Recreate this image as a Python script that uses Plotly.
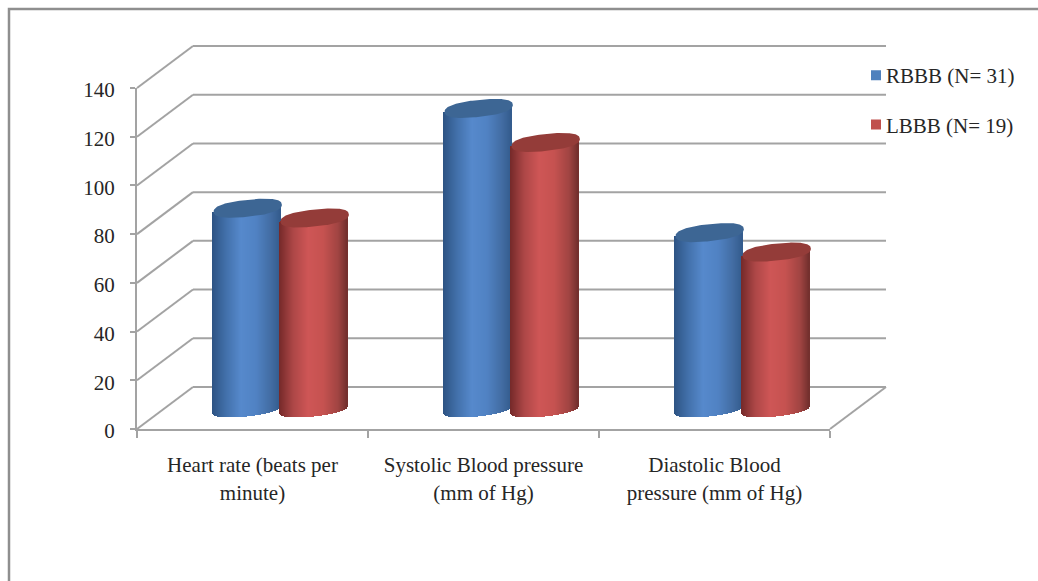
import numpy as np
import plotly.graph_objects as go

# ---- data ----
categories = ["Heart rate (beats per<br>minute)",
              "Systolic Blood pressure<br>(mm of Hg)",
              "Diastolic Blood<br>pressure (mm of Hg)"]
rbbb = [82, 123, 72]
lbbb = [78, 109, 64]
y_ticks = [0, 20, 40, 60, 80, 100, 120, 140]
series_names = ["RBBB (N= 31)", "LBBB (N= 19)"]

# ---- geometry ----
W, H = 1038, 581
L, R, T, B = 137, 830, 88, 429
X_PX = (R - L) / 3          # pixels per category
Y_PX = (B - T) / 140        # pixels per value unit
DEPTH_X, DEPTH_Y = 56 / X_PX, 42 / Y_PX
GRID = "#a3a3a3"
TXT = "#262626"
FONT = "Liberation Serif"
FS = 21


def px(u):
    return u / 3


def py(v):
    return v / 140


def mix(stops, t):
    ts = [s[0] for s in stops]
    return "rgb({:.0f},{:.0f},{:.0f})".format(*[np.interp(t, ts, [s[1][i] for s in stops]) for i in range(3)])


blue_stops = [(-1, (46, 84, 132)), (-0.6, (66, 112, 170)), (-0.15, (86, 137, 204)),
              (0.3, (80, 130, 195)), (0.75, (66, 108, 162)), (1, (52, 92, 142))]
red_stops = [(-1, (118, 42, 42)), (-0.6, (172, 70, 70)), (-0.15, (206, 86, 86)),
             (0.3, (198, 82, 80)), (0.75, (160, 68, 66)), (1, (116, 48, 46))]
cap_colors = ["#3d6694", "#943c39"]

HALF = 33.5 / X_PX
SKEW = 3.5 / Y_PX
TOP_E = 8.5 / Y_PX
BOT_E = 6 / Y_PX
BOT_DROP = 2.5 / Y_PX
N = 68
MID_X, MID_Y = DEPTH_X / 2, DEPTH_Y / 2


def cylinder(centers, values, stops, cap):
    ts = np.linspace(-1, 1, N)
    xs, bases, heights, cols = [], [], [], []
    for c, v in zip(centers, values):
        for t in ts:
            lo = MID_Y - BOT_DROP + SKEW * t - BOT_E * np.sqrt(1 - t * t)
            hi = v + MID_Y + SKEW * t
            xs.append(c + MID_X + t * HALF)
            bases.append(lo)
            heights.append(hi - lo)
            cols.append(mix(stops, t))
    body = go.Bar(x=xs, y=heights, base=bases, width=1.5 / X_PX, showlegend=False,
                  marker=dict(color=cols, line=dict(width=0)), hoverinfo="skip")
    th = np.linspace(0, 2 * np.pi, 145)
    ca = np.sign(np.cos(th)) * np.abs(np.cos(th)) ** 0.82
    sa = np.sign(np.sin(th)) * np.abs(np.sin(th)) ** 0.82
    cx, cy = [], []
    for c, v in zip(centers, values):
        cx += list(c + MID_X + 0.003 + (HALF * 1.02) * ca) + [None]
        cy += list(v + MID_Y + SKEW * ca + TOP_E * sa) + [None]
    top = go.Scatter(x=cx, y=cy, mode="lines", fill="toself", fillcolor=cap,
                     line=dict(width=0, color=cap), showlegend=False, hoverinfo="skip")
    return [body, top]


offset = 0.145
centers_r = [i + 0.5 - offset for i in range(3)]
centers_l = [i + 0.5 + offset for i in range(3)]

fig = go.Figure()
for tr in cylinder(centers_r, rbbb, blue_stops, cap_colors[0]):
    fig.add_trace(tr)
for tr in cylinder(centers_l, lbbb, red_stops, cap_colors[1]):
    fig.add_trace(tr)

# legend keys: a thick dashed line whose only visible dash is a 10 px square next to the text
for name, col in zip(series_names, ["#4F81BD", "#C0504D"]):
    fig.add_trace(go.Scatter(x=[None], y=[None], mode="lines", name=name, legendgroup=name,
                             line=dict(color=col, width=10, dash="0px,20px,10px,100px")))

# 3-D walls: back-wall lines and the slanted side-wall lines
shapes = []
for v in y_ticks:
    shapes.append(dict(type="line", xref="paper", yref="paper", layer="below",
                       x0=px(DEPTH_X), x1=px(3 + DEPTH_X), y0=py(v + DEPTH_Y), y1=py(v + DEPTH_Y),
                       line=dict(color=GRID, width=2)))
    shapes.append(dict(type="line", xref="paper", yref="paper", layer="below",
                       x0=px(0), x1=px(DEPTH_X), y0=py(v), y1=py(v + DEPTH_Y),
                       line=dict(color=GRID, width=2)))
shapes.append(dict(type="line", xref="paper", yref="paper", layer="below",
                   x0=px(3), x1=px(3 + DEPTH_X), y0=py(0), y1=py(DEPTH_Y),
                   line=dict(color=GRID, width=2)))

# outer frame, cut by the picture's right and bottom edges
fx0 = (9 - L) / (R - L)
fx1 = (W + 10 - L) / (R - L)
fy_top = (B - 9) / (B - T)
fy_bot = (B - H - 10) / (B - T)
shapes.append(dict(type="path", xref="paper", yref="paper", layer="below",
                   path=f"M {fx0} {fy_bot} L {fx0} {fy_top} L {fx1} {fy_top}",
                   line=dict(color="#8f8f8f", width=2.5)))

fig.update_layout(
    width=W, height=H, autosize=False,
    margin=dict(l=L, r=W - R, t=T, b=H - B, pad=0),
    paper_bgcolor="white", plot_bgcolor="rgba(0,0,0,0)",
    barmode="overlay", bargap=0, shapes=shapes,
    font=dict(family=FONT, size=FS, color=TXT),
    showlegend=True,
    legend=dict(x=(846 - L) / (R - L), xanchor="left",
                y=(B - 55) / (B - T), yanchor="top",
                bgcolor="rgba(0,0,0,0)", tracegroupgap=19, itemwidth=30, itemsizing="trace",
                font=dict(family=FONT, size=FS, color=TXT)),
    xaxis=dict(range=[0, 3], showgrid=False, zeroline=False, showline=True, linecolor=GRID, linewidth=2,
               tickmode="array", tickvals=[0.5, 1.5, 2.5], ticktext=categories, ticks="", ticklen=0,
               ticklabelstandoff=16, tickfont=dict(family=FONT, size=FS, color=TXT),
               minor=dict(tickmode="array", tickvals=[0, 1, 2, 3], ticks="outside", ticklen=7,
                          tickwidth=2, tickcolor=GRID, showgrid=False)),
    yaxis=dict(range=[0, 140], showgrid=False, zeroline=False, showline=True, linecolor=GRID, linewidth=2,
               tickmode="array", tickvals=y_ticks, ticktext=[str(v) for v in y_ticks],
               ticks="outside", ticklen=5, tickwidth=2, tickcolor=GRID, ticklabelstandoff=11,
               ticklabelshift=2, tickfont=dict(family=FONT, size=FS, color=TXT)),
)

fig.write_html("out.html", config=dict(displayModeBar=False),
               post_script="document.body.style.margin='0';document.documentElement.style.overflow='hidden';window.dispatchEvent(new Event('resize'));")
